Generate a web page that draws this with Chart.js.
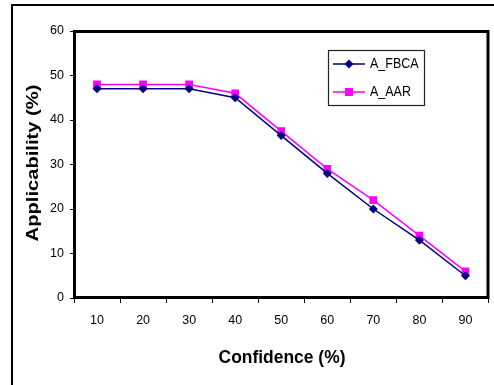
<!DOCTYPE html>
<html>
<head>
<meta charset="utf-8">
<script src="https://cdn.jsdelivr.net/npm/chart.js@4.4.0/dist/chart.umd.min.js"></script>
<style>
  html, body { margin: 0; padding: 0; background: #fff; }
  #wrap { width: 494px; height: 385px; }
</style>
</head>
<body>
<div id="wrap"><canvas id="myChart" width="494" height="385"></canvas></div>
<script>
const confidence = ['10', '20', '30', '40', '50', '60', '70', '80', '90'];
const aFbca = [47, 47, 47, 45, 36.5, 28, 20, 13, 5];
const aAar = [48, 48, 48, 46, 37.5, 29, 22, 14, 6];
const yTicks = [0, 10, 20, 30, 40, 50, 60];

const FONT = 'Arial, "Liberation Sans", sans-serif';

// frame, plot border, axis titles and the little legend box
const decor = {
  id: 'decor',
  beforeDraw(chart) {
    const c = chart.ctx;
    c.save();
    c.fillStyle = '#fff';
    c.fillRect(0, 0, chart.width, chart.height);
    c.strokeStyle = '#000';
    c.lineWidth = 2;
    c.strokeRect(12, 5, chart.width + 20, chart.height + 20);
    c.restore();
  },
  afterDraw(chart) {
    const c = chart.ctx;
    const a = chart.chartArea;
    c.save();
    c.strokeStyle = '#000';
    c.lineWidth = 3;
    c.strokeRect(a.left + 0.5, a.top + 0.5, a.right - a.left - 1, a.bottom - a.top - 1);

    // titles (slightly stretched like the original)
    c.fillStyle = '#000';
    c.font = 'bold 16px ' + FONT;
    c.textAlign = 'center';
    c.textBaseline = 'middle';
    c.save();
    c.translate(282, 358);
    c.scale(1.09, 1.2);
    c.fillText('Confidence (%)', 0, 0);
    c.restore();
    c.save();
    c.translate(33, 163);
    c.rotate(-Math.PI / 2);
    c.scale(1.26, 1.05);
    c.fillText('Applicability (%)', 0, 0);
    c.restore();

    // legend
    c.lineWidth = 1.2;
    c.strokeStyle = '#222';
    c.strokeRect(328.5, 50.5, 96, 55);
    c.font = '12px ' + FONT;
    c.textAlign = 'left';
    chart.data.datasets.forEach((ds, i) => {
      const y = 64 + i * 28;
      c.strokeStyle = ds.borderColor;
      c.lineWidth = 1.5;
      c.beginPath();
      c.moveTo(333, y);
      c.lineTo(365, y);
      c.stroke();
      c.fillStyle = ds.backgroundColor;
      c.beginPath();
      if (ds.pointStyle === 'rectRot') {
        c.moveTo(349, y - 4.5);
        c.lineTo(353.5, y);
        c.lineTo(349, y + 4.5);
        c.lineTo(344.5, y);
        c.closePath();
        c.fill();
      } else {
        c.fillRect(345, y - 4, 8, 8);
      }
      c.fillStyle = '#000';
      c.save();
      c.translate(370, y);
      c.scale(1.04, 1.2);
      c.fillText(ds.label, 0, 0);
      c.restore();
    });
    c.restore();
  }
};

new Chart(document.getElementById('myChart'), {
  type: 'line',
  data: {
    labels: confidence,
    datasets: [{
      label: 'A_FBCA',
      data: aFbca,
      borderColor: '#000080',
      backgroundColor: '#000080',
      borderWidth: 1.5,
      pointStyle: 'rectRot',
      pointRadius: 4.5,
      pointBorderWidth: 0,
      tension: 0
    }, {
      label: 'A_AAR',
      data: aAar,
      borderColor: '#ff00ff',
      backgroundColor: '#ff00ff',
      borderWidth: 1.5,
      pointStyle: 'rect',
      pointRadius: 5.5,
      pointBorderWidth: 0,
      tension: 0
    }]
  },
  options: {
    responsive: false,
    animation: false,
    layout: { padding: { top: 31, right: 4, left: 0, bottom: 0 } },
    plugins: {
      legend: { display: false },
      tooltip: { enabled: false }
    },
    scales: {
      x: {
        offset: true,
        grid: { offset: true, drawOnChartArea: false, tickLength: 5, color: '#000', lineWidth: 1 },
        border: { display: false },
        ticks: { color: '#000', font: { family: FONT, size: 12.5 }, padding: 10, maxRotation: 0 },
        afterFit(s) { s.height = 87; }
      },
      y: {
        min: 0,
        max: 60,
        afterBuildTicks(s) { s.ticks = yTicks.map(v => ({ value: v })); },
        grid: { drawOnChartArea: false, tickLength: 4, color: '#000', lineWidth: 1 },
        border: { display: false },
        ticks: { color: '#000', font: { family: FONT, size: 12.5 }, padding: 6 },
        afterFit(s) { s.width = 74; }
      }
    }
  },
  plugins: [decor]
});
</script>
</body>
</html>
